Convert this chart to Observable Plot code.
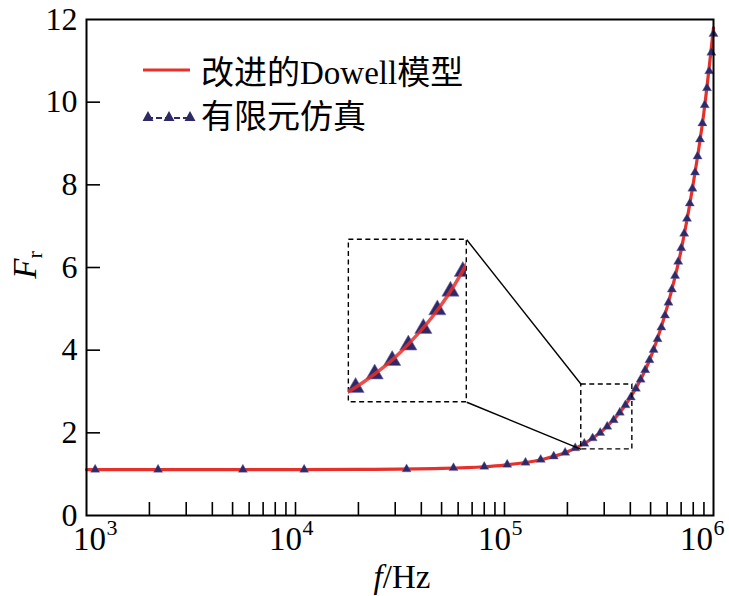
<!DOCTYPE html>
<html><head><meta charset="utf-8">
<script src="https://cdn.jsdelivr.net/npm/d3@7"></script>
<script src="https://cdn.jsdelivr.net/npm/@observablehq/plot@0.6"></script>
<style>
html,body{margin:0;padding:0;background:#fff;}
#chart{position:relative;width:729px;height:596px;overflow:hidden;background:#fff;}
.leg{position:absolute;font-family:'Liberation Serif','Noto Sans CJK SC',serif;font-size:33px;line-height:1;white-space:nowrap;color:#000;}
</style></head><body><div id="chart"></div>
<script>
// ---- data ----
const fModel = [1000, 2000, 5000, 10000, 20000, 50000, 80000, 100000, 150000, 200000, 250000, 300000, 400000, 500000, 600000, 700000, 800000, 900000, 1000000];
const frModel = [1.11, 1.11, 1.11, 1.11, 1.115, 1.14, 1.18, 1.22, 1.35, 1.54, 1.79, 2.09, 2.85, 3.82, 5.04, 6.42, 8.03, 9.76, 11.8];
const fFEM = [1100, 2200, 5600, 11000, 34000, 57000, 80000, 103000, 126000, 149000, 172000, 195000, 218000, 241000, 264000, 287000, 310000, 333000, 356000, 379000, 402000, 425000, 448000, 471000, 494000, 517000, 540000, 563000, 586000, 609000, 632000, 655000, 678000, 701000, 724000, 747000, 770000, 793000, 816000, 839000, 862000, 885000, 908000, 931000, 954000, 977000, 1000000];
const frFEM = [1.11, 1.11, 1.11, 1.11, 1.12, 1.15, 1.18, 1.23, 1.28, 1.35, 1.43, 1.52, 1.63, 1.74, 1.87, 2.00, 2.15, 2.31, 2.49, 2.67, 2.86, 3.07, 3.29, 3.52, 3.76, 4.01, 4.27, 4.55, 4.84, 5.15, 5.47, 5.80, 6.14, 6.47, 6.82, 7.18, 7.55, 7.91, 8.30, 8.69, 9.10, 9.49, 9.93, 10.34, 10.75, 11.20, 11.65];
const seriesNames = ["改进的Dowell模型", "有限元仿真"];
const xDecades = [1e3, 1e4, 1e5, 1e6];
const xExponents = ["3", "4", "5", "6"];
const xMinorTicks = [2e3,3e3,4e3,5e3,6e3,7e3,8e3,9e3,1e4,2e4,3e4,4e4,5e4,6e4,7e4,8e4,9e4,1e5,2e5,3e5,4e5,5e5,6e5,7e5,8e5,9e5];
const yTickLabels = [0, 2, 4, 6, 8, 10, 12];
const yInnerTicks = [2, 4, 6, 8, 10];
const zoomX = [2.33e5, 4.09e5];   // magnified region
const zoomY = [1.60, 3.17];
const insetX = [1.8e4, 6.6e4];    // where the magnified view sits
const insetY = [2.74, 6.67];
const xLabel = ["f", "/Hz"];
const yLabel = ["F", "r"];

const model = fModel.map((f, i) => ({f, fr: frModel[i]}));
const fem = fFEM.map((f, i) => ({f, fr: frFEM[i]}));
const decadeLabels = xDecades.map((d, i) => ({d, e: xExponents[i]}));
const first = decadeLabels[0], last = decadeLabels[decadeLabels.length - 1];
const inner = decadeLabels.filter(o => o !== first && o !== last);

const RED = "#e8302a", NAVY = "#2f2a66";
const serif = "'Liberation Serif','Times New Roman',serif";
const W = 729, H = 596;

function decadeMarks(data, dx) {
  return [
    Plot.text(data, {x: "d", frameAnchor: "bottom", text: () => "10", dy: 34, dx, fontSize: 33, fill: "#000"}),
    Plot.text(data, {x: "d", frameAnchor: "bottom", text: "e", dy: 19, dx: dx + 17, textAnchor: "start", fontSize: 22, fill: "#000"})
  ];
}

const main = Plot.plot({
  width: W, height: H,
  marginLeft: 86, marginRight: 16, marginTop: 19, marginBottom: 81,
  style: {fontFamily: serif, background: "#fff", overflow: "visible", color: "#000"},
  x: {type: "log", domain: [1e3, 1e6]},
  y: {domain: [0, 12]},
  marks: [
    Plot.axisX({ticks: xMinorTicks, tickSize: -13, tickFormat: () => "", strokeWidth: 1.6}),
    Plot.axisY({ticks: yInnerTicks, tickSize: -14, tickFormat: () => "", strokeWidth: 1.6}),
    Plot.axisY({ticks: yTickLabels, tickSize: 0, tickPadding: 9, fontSize: 32, tickFormat: d => String(d)}),
    ...decadeMarks([first], 3),
    ...decadeMarks(inner, -10),
    ...decadeMarks([last], -17),
    Plot.line(model, {x: "f", y: "fr", stroke: RED, strokeWidth: 3.2, curve: "monotone-x"}),
    Plot.dot(fem, {x: "f", y: "fr", symbol: "triangle", r: 3.4, fill: NAVY, stroke: "#6b62a8", strokeWidth: 0.4}),
    Plot.rect([{}], {x1: zoomX[0], x2: zoomX[1], y1: zoomY[0], y2: zoomY[1], fill: "none", stroke: "#000", strokeWidth: 1.4, strokeDasharray: "5,3.5"}),
    Plot.rect([{}], {x1: insetX[0], x2: insetX[1], y1: insetY[0], y2: insetY[1], fill: "none", stroke: "#000", strokeWidth: 1.4, strokeDasharray: "5,3.5"}),
    Plot.link([{a: insetX[1], b: insetY[1], c: zoomX[0], d: zoomY[1]}, {a: insetX[1], b: insetY[0], c: zoomX[0], d: zoomY[0]}],
      {x1: "a", y1: "b", x2: "c", y2: "d", stroke: "#000", strokeWidth: 1.4}),
    Plot.frame({stroke: "#000", strokeWidth: 2})
  ]
});

const chart = document.getElementById("chart");
chart.appendChild(main);

// axis titles as real text with italic / subscript parts
const svg = d3.select(main);
const xt = svg.append("text").attr("x", 402).attr("y", 588).attr("text-anchor", "middle")
  .attr("font-family", serif).attr("font-size", 33).attr("fill", "#000");
xt.append("tspan").attr("font-style", "italic").text(xLabel[0]);
xt.append("tspan").text(xLabel[1]);
const yt = svg.append("text").attr("transform", "translate(36,265) rotate(-90)").attr("text-anchor", "middle")
  .attr("font-family", serif).attr("font-size", 33).attr("fill", "#000");
yt.append("tspan").attr("font-style", "italic").text(yLabel[0]);
yt.append("tspan").attr("font-size", 22).attr("dy", 6).text(yLabel[1]);

// magnified inset, drawn by its own Plot with zoomed scales
const sx = main.scale("x"), sy = main.scale("y");
const ix0 = sx.apply(insetX[0]), ix1 = sx.apply(insetX[1]);
const iy0 = sy.apply(insetY[1]), iy1 = sy.apply(insetY[0]);
const inset = Plot.plot({
  width: ix1 - ix0, height: iy1 - iy0,
  margin: 0,
  style: {background: "transparent", overflow: "hidden"},
  x: {type: "log", domain: zoomX, axis: null},
  y: {domain: zoomY, axis: null},
  marks: [
    Plot.dot(fem, {x: "f", y: "fr", symbol: "triangle", r: 6.4, fill: NAVY, stroke: "#7a70b8", strokeWidth: 0.6, clip: true}),
    Plot.line(model, {x: "f", y: "fr", stroke: RED, strokeWidth: 3.5, curve: "monotone-x", clip: true, opacity: 0.85})
  ]
});
inset.style.position = "absolute";
inset.style.left = ix0 + "px";
inset.style.top = iy0 + "px";
chart.appendChild(inset);

// legend
const leg = document.createElement("div");
leg.innerHTML = `
<svg style="position:absolute;left:0;top:0" width="729" height="596">
  <line x1="143" x2="190" y1="70" y2="70" stroke="${RED}" stroke-width="3"/>
  <line x1="147" x2="190" y1="118" y2="118" stroke="${NAVY}" stroke-width="2" stroke-dasharray="6,3"/>
  <path d="${[148, 169, 190].map(x => `M${x},111L${x + 5.5},121L${x - 5.5},121Z`).join("")}" fill="${NAVY}"/>
</svg>
<div class="leg" style="left:201px;top:57px">${seriesNames[0]}</div>
<div class="leg" style="left:201px;top:101px">${seriesNames[1]}</div>`;
chart.appendChild(leg);
</script>
</body></html>
